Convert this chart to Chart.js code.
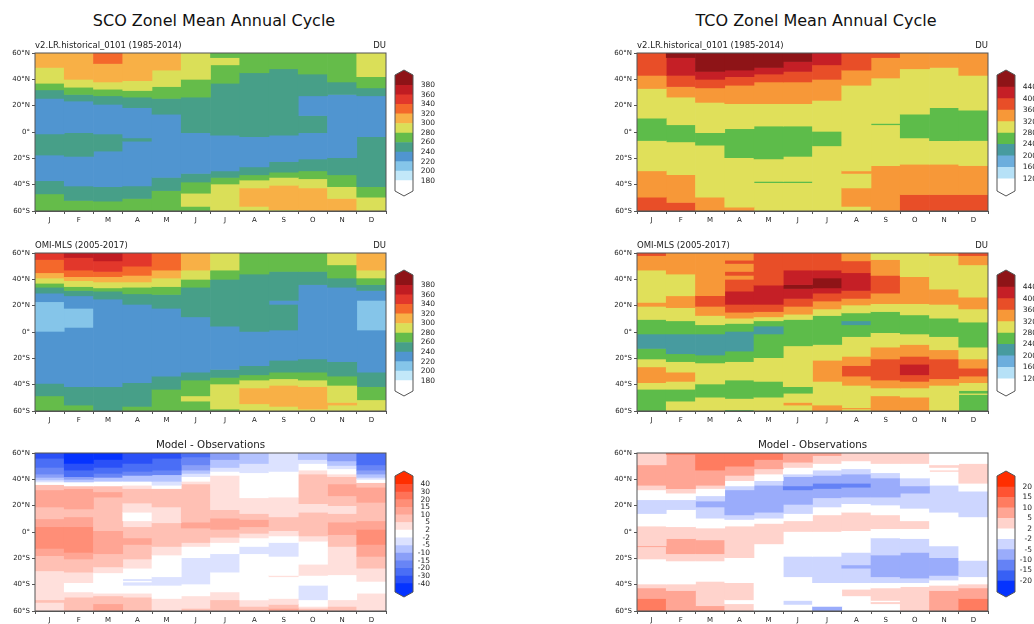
<!DOCTYPE html>
<html>
<head>
<meta charset="utf-8">
<title>Zonal Mean Annual Cycle</title>
<script src="https://cdn.jsdelivr.net/npm/chart.js@4"></script>
<style>
  html, body { margin: 0; padding: 0; background: #fff; }
  #page { position: relative; width: 1034px; height: 624px; overflow: hidden; }
  canvas { position: absolute; }
  .title { position: absolute; top: 11px; font: 16px "DejaVu Sans"; color: #111; transform: translateX(-50%); white-space: nowrap; }
</style>
</head>
<body>
<div id="page">
  <div class="title" style="left:214px">SCO Zonel Mean Annual Cycle</div>
  <div class="title" style="left:816px">TCO Zonel Mean Annual Cycle</div>
</div>
<script>
const monthLabels = ['J', 'F', 'M', 'A', 'M', 'J', 'J', 'A', 'S', 'O', 'N', 'D'];
const latTicks = [-60, -40, -20, 0, 20, 40, 60];

// colour levels
const scoLevels = [180, 200, 220, 240, 260, 280, 300, 320, 340, 360, 380];
const scoColors = ['#ffffff', '#c2e8f9', '#85c5e9', '#5095d0', '#479f88', '#65bc4a', '#dadf58', '#f8b046', '#f4682b', '#e2372b', '#c01c22', '#8e1317'];
const tcoLevels = [120, 160, 200, 240, 280, 320, 360, 400, 440];
const tcoColors = ['#ffffff', '#b6e1f7', '#6caedd', '#479b9f', '#5dbc4a', '#e0e05a', '#f79838', '#e84e28', '#c51f26', '#8e1417'];
const scoDiffLevels = [-40, -30, -20, -15, -10, -5, -2, 2, 5, 10, 15, 20, 30, 40];
const scoDiffColors = ['#0533ff', '#2a50f7', '#4a6ef6', '#6885f6', '#8a9ff8', '#b4c3ff', '#dce2ff', '#ffffff', '#ffe0dc', '#ffc0b4', '#ffa594', '#ff8e77', '#ff7257', '#ff5131', '#ff2e00'];
const tcoDiffLevels = [-20, -15, -10, -5, -2, 2, 5, 10, 15, 20];
const tcoDiffColors = ['#0533ff', '#3760f5', '#6482f6', '#9aacfb', '#cdd6ff', '#ffffff', '#ffd3cc', '#ffa594', '#ff7c60', '#ff5332', '#ff2e00'];

// each month: band edges from north to south (60N and 60S left out) and the value in each band
const scoModelEdges = [
  [49, 37, 32, 25.5, -1.5, -17.5, -37, -47],
  [40, 34, 28.5, 23.5, -0.5, -18.5, -41, -52],
  [52, 38, 32.5, 27.5, 21, -1.5, -14.5, -41.5, -52.5],
  [39, 31.5, 26.5, 18.5, -4.5, -7, -41, -50.5],
  [47, 34.5, 25.5, 13.5, -34.5, -44.5],
  [40, 26.5, -0.5, -31.5, -38, -46.5, -56.5],
  [56.5, 51, 37, -2.5, -29.5, -34.5, -39.5],
  [45, -3.5, -26.5, -32.5, -36.5, -42.5, -56.5],
  [48, -2.5, -22.5, -30.5, -34.5, -40.5, -59],
  [44, 27.5, 12.5, -0.5, -20.5, -29.5, -35.5, -42.5],
  [38, 28.5, -19.5, -32.5, -41.5, -50.5],
  [42, 33.5, 27.5, -3.5, -41.5, -49.5]
];
const scoModelValues = [
  [310, 290, 270, 250, 230, 250, 230, 250, 270],
  [310, 290, 270, 250, 230, 250, 230, 250, 270],
  [330, 310, 290, 270, 250, 230, 250, 230, 250, 270],
  [310, 290, 270, 250, 230, 250, 230, 250, 270],
  [310, 290, 270, 250, 230, 250, 270],
  [290, 270, 250, 230, 250, 270, 290, 270],
  [270, 290, 270, 250, 230, 250, 270, 290],
  [270, 250, 230, 250, 270, 290, 310, 290],
  [270, 250, 230, 250, 270, 290, 310, 290],
  [270, 250, 230, 250, 230, 250, 270, 290, 310],
  [270, 250, 230, 250, 270, 290, 310],
  [290, 270, 250, 230, 250, 270, 290]
];

const scoObsEdges = [
  [55, 45, 41, 37, 34, 29.5, 23, 0.5, -39, -48.5],
  [56.5, 47, 42, 39, 34.5, 31.5, 27.5, 18, 3.5, -41.5, -55.5],
  [54, 46, 42, 38, 33.5, 31, 25, -41.5],
  [50, 43, 38, 34, 29, 21, -38.5, -56.5],
  [47, 41, 34.5, 28.5, 18, -33.5, -43.5],
  [47, 40, 34, 11.5, -30.5, -36.5, -48.5, -52.5],
  [47, 40, 4.5, -28.5, -34.5, -39.5, -58.5],
  [44, 0.5, -25.5, -32.5, -36.5, -42.5, -54.5],
  [46, 24, 21, 1.5, -21.5, -30.5, -35.5, -40.5, -56.5],
  [46, 36, -20.5, -30.5, -36.5, -41.5, -58.5],
  [51, 41, 34, -22.5, -33.5, -40.5, -53.5, -55.5],
  [47, 41, 36, 31.5, 24, 1.5, -30.5, -41.5, -51.5]
];
const scoObsValues = [
  [350, 330, 310, 290, 270, 250, 230, 210, 230, 250, 270],
  [370, 350, 330, 310, 290, 270, 250, 230, 210, 230, 250, 270],
  [370, 350, 330, 310, 290, 270, 250, 230, 250],
  [350, 330, 310, 290, 270, 250, 230, 250, 270],
  [330, 310, 290, 270, 250, 230, 250, 270],
  [310, 290, 270, 250, 230, 250, 270, 290, 270],
  [290, 270, 250, 230, 250, 270, 290, 270],
  [270, 250, 230, 250, 270, 290, 310, 290],
  [270, 250, 230, 250, 230, 250, 270, 290, 310, 290],
  [270, 250, 230, 250, 270, 290, 310, 290],
  [290, 270, 250, 230, 250, 270, 290, 310, 290],
  [310, 290, 270, 250, 230, 210, 230, 250, 270, 290]
];

const scoDiffEdges = [
  [56, 49, 44, 41.5, 39.5, 38, 36, 32, 19, 10, 4, -12.5, -18, -29.5, -51.5, -53.5],
  [52, 47, 42, 40, 38, 35, 33, 17.5, 11.5, 4, -15.5, -20.5, -30.5, -38.5, -45.5, -49.5],
  [55, 49, 44.5, 41.5, 38.5, 35, 30.5, 26.5, 1, -16.5, -26.5, -31, -46.5, -48.5, -54.5],
  [52, 46, 43, 38.5, 35.5, 33, 22, 15, 8.5, 4, -4.5, -9.5, -20.5, -27.5, -35.5, -37, -38, -40.5, -46.5, -49.5],
  [56, 47, 43.5, 38.5, 35.5, 33, 19, 7, -11, -17.5, -34, -40.5, -50.5],
  [57, 51, 47, 44.5, 42, 38.5, 36.5, 7.5, 3, -8, -11, -19.5, -39.5, -48.5, -58],
  [55, 49, 46, 43, 17, 10.5, 2, -4, -8, -16.5, -30.5, -45.5, -51.5],
  [52, 45, 26, 14, 9.5, 4, -1, -4.5, -11, -16.5, -51.5, -56.5],
  [46, 26.5, 11.5, 1, -3, -8, -18.5, -33, -34, -50.5, -55, -58],
  [55, 52, 47, 44, 21.5, 15, -3, -7, -24.5, -33, -40.5, -51.5, -56.5, -58],
  [54, 50.5, 48, 44, 42, 36.5, 27.5, 20, 14, 7.5, -2, -11, -32.5, -51.5, -56.5],
  [51, 47, 44, 41.5, 40, 37.5, 34, 22.5, 8.5, 2, -9.5, -18.5, -27.5, -37.5, -46.5]
];
const scoDiffValues = [
  [-35, -25, -17, -12, -7, -3, 0, 7, 12, 7, 12, 17, 12, 7, 3, 7, 3],
  [-45, -35, -25, -12, -7, 0, 7, 12, 7, 12, 17, 12, 7, 3, 0, 3, 7],
  [-45, -35, -25, -17, -7, 0, 7, 12, 7, 12, 7, 3, 0, 3, 7, 12],
  [-35, -25, -17, -7, 0, 3, 7, 3, 0, 3, 7, 12, 7, 3, 0, -3, 0, -3, 0, 3, 7],
  [-35, -25, -17, -7, -3, 0, 7, 3, 7, 3, 0, -3, 0, 3],
  [-25, -17, -12, -7, -3, 0, 3, 7, 12, 7, 3, 0, -3, 0, 3, 7],
  [-12, -7, -3, 0, 3, 7, 12, 7, 3, 0, -3, 0, 3, 7],
  [-7, -3, 0, 3, 7, 12, 7, 3, 0, -3, 0, 3, 7],
  [-3, 0, 3, 7, 3, 0, -3, 0, 3, 0, 3, 7, 12],
  [-7, -3, 0, 3, 7, 3, 7, 3, 0, 3, 0, -3, 0, 3, 7],
  [-12, -7, -3, 0, 3, 7, 12, 7, 3, 7, 12, 7, 3, 0, 3, 7],
  [-25, -17, -12, -7, -3, 0, 7, 12, 7, 12, 17, 12, 7, 3, 0, 3]
];

const tcoModelEdges = [
  [43, 33, 10.5, -6.5, -29.5, -49.5],
  [56.5, 43, 34.5, 26.5, 5.5, -7.5, -32.5, -53.5],
  [46, 40, 33.5, 22.5, -0.5, -10, -49.5],
  [47, 42, 35.5, 21.5, 2.5, -19.5, -57],
  [49, 44, 38, 21.5, 4.5, -20.5, -37.5, -38.5],
  [53.5, 46, 38, 21.5, 4.5, -18.5, -37.5, -38.5],
  [51, 40, 24, 0.5, -10.5],
  [47, 35.5, -29.5, -31.5, -42.5, -56.5],
  [56.5, 41, 6.5, 5.5, -25.5],
  [48, 13.5, -4.5, -24.5, -47.5],
  [49, 18.5, -6.5, -24.5, -47.5],
  [43, 16.5, -6.5, -25.5, -47.5]
];
const tcoModelValues = [
  [380, 340, 300, 260, 300, 340, 380],
  [460, 420, 380, 340, 300, 260, 300, 340, 380],
  [460, 420, 380, 340, 300, 260, 300, 340],
  [460, 420, 380, 340, 300, 260, 300, 340],
  [460, 420, 380, 340, 300, 260, 300, 260, 300],
  [460, 420, 380, 340, 300, 260, 300, 260, 300],
  [420, 380, 340, 300, 260, 300],
  [380, 340, 300, 340, 300, 340, 300],
  [380, 340, 300, 260, 300, 340],
  [340, 300, 260, 300, 340, 380],
  [340, 300, 260, 300, 340, 380],
  [340, 300, 260, 300, 340, 380]
];

const tcoObsEdges = [
  [58, 47, 22.5, 19.5, 9.5, -1.5, -12.5, -20.5, -26.5, -38.5, -43.5],
  [44, 27.5, 18.5, 8.5, -1.5, -16.5, -22.5, -30.5, -37.5, -43.5, -52.5],
  [27.5, 19.5, 12.5, 5.5, -1.5, -17.5, -23.5, -39.5, -49.5],
  [54.5, 52, 46, 43, 40, 31, 21, 15, 10.5, 6.5, 0.5, -14.5, -22.5, -36.5, -50.5, -59],
  [35.5, 21, 15.5, 11.5, 8.5, 4.5, -1.5, -19.5, -37.5, -49.5],
  [47, 36, 33, 25.5, 19.5, 13.5, 9.5, -10.5, -41.5, -46.5, -53.5, -55.5],
  [47, 41, 33.5, 29.5, 23.5, 17.5, 12.5, -9.5, -21.5, -37.5, -55.5],
  [54, 45, 31.5, 25.5, 20.5, 14.5, 8.5, 5.5, -3.5, -18.5, -25.5, -33.5, -40.5, -57.5, -58.5],
  [55, 43, 29.5, 21.5, 15.5, -0.5, -11.5, -20.5, -36.5, -42.5, -48.5],
  [42, 21.5, 13, -1.5, -9.5, -18.5, -24.5, -32.5, -37.5, -42.5, -49.5],
  [58, 32.5, 21, 10.5, -3.5, -13.5, -20.5, -35.5, -40.5],
  [58, 51, 26.5, 17.5, 7.5, -11.5, -20.5, -27.5, -33.5, -38.5, -44.5, -46.5, -47.5]
];
const tcoObsValues = [
  [380, 340, 300, 340, 300, 260, 220, 260, 300, 340, 300, 260],
  [340, 300, 340, 300, 260, 220, 260, 300, 340, 300, 260, 300],
  [340, 380, 340, 300, 260, 220, 260, 300, 260, 300],
  [340, 380, 340, 380, 340, 380, 420, 380, 340, 300, 260, 220, 260, 300, 260, 300, 260],
  [380, 420, 380, 340, 300, 260, 220, 260, 300, 260, 300],
  [380, 420, 460, 420, 380, 340, 300, 260, 300, 260, 300, 340, 300],
  [380, 420, 460, 420, 380, 340, 300, 260, 300, 340, 300, 340],
  [340, 380, 420, 380, 340, 300, 260, 220, 260, 300, 340, 380, 340, 300, 340, 300],
  [300, 340, 380, 340, 300, 260, 300, 340, 380, 340, 300, 340],
  [300, 340, 300, 260, 300, 340, 380, 420, 380, 340, 300, 340],
  [340, 300, 340, 300, 260, 300, 340, 380, 340, 300],
  [380, 340, 300, 340, 300, 260, 300, 340, 380, 340, 300, 260, 300, 260]
];

const tcoDiffEdges = [
  [51, 35.5, 32, 24.5, 14, 4.5, -10.5, -11.2, -20.5, -39.5, -42.5, -50.5],
  [59, 33, 29.5, 24.5, 17, 4, -5, -16.5, -22, -39.5, -44.5],
  [47, 35.5, 33, 27.5, 23.5, 19, 10.5, 3, -6, -16.5, -22, -37.5, -56],
  [50, 43, 39, 35, 32, 13, 9.5, 4.5, -19.5, -38.5, -51.5, -54.5],
  [55, 48, 44, 39, 35.5, 15, 10.5, 6.5, -9],
  [53, 49, 44, 42, 35, 32, 21, 14, 8.5, 0, -18.5, -34, -52, -55],
  [58, 52, 47, 43, 37, 33, 26, 19, 13, 0, -18.5, -38.5, -56.5],
  [54, 48, 44, 37, 34, 26.5, 21.5, 15, 1, -15.5, -25, -27.5, -38.5, -43.5, -48.5],
  [52, 45, 41, 26.5, 20.5, 13, 2.5, -4.5, -17.5, -34, -38.5, -42.5, -52, -53, -54.5],
  [52, 41, 35, 29.5, 18, 8.5, 2.5, -5, -15.5, -35, -38.5, -41.5],
  [51, 49, 47, 46, 35.5, 15, -10.5, -19.5, -33, -36.5, -40.5, -44.5],
  [52, 37, 31, 11.5, -21.5, -34, -39.5, -42.5, -50.5]
];
const tcoDiffValues = [
  [3, 7, 3, 0, -3, 0, 3, 7, 3, 0, 3, 7, 12],
  [12, 7, 3, 0, -3, 0, 3, 7, 3, 0, 3, 7],
  [12, 7, 3, 0, -3, -7, -3, 0, 3, 7, 3, 0, 3, 7],
  [12, 7, 3, 0, -3, -7, -3, 0, 3, 0, 3, 0, 3],
  [12, 7, 3, 0, -3, -7, -3, 0, 3, 0],
  [7, 3, 0, -3, -7, -12, -7, -3, 0, 3, 0, -3, 0, -3, 0],
  [7, 3, 0, -3, -7, -12, -7, -3, 0, 3, 0, -3, 0, -7],
  [3, 0, -3, -7, -12, -7, -3, 0, 3, 0, -3, -7, -3, 0, 3, 0],
  [3, 0, -3, -7, -3, 0, 3, 0, -3, -7, -3, 0, 3, 0, 3, 0],
  [3, 0, -3, -7, -3, 0, 3, 0, -3, -7, -3, 0, 3],
  [0, 3, 0, 3, 0, -3, 0, -3, -7, -3, 0, 3, 7],
  [0, 3, 0, -3, 0, -3, 0, 3, 7, 12]
];

Chart.defaults.font.family = '"DejaVu Sans"';
Chart.defaults.color = '#222';
Chart.defaults.animation = false;

const page = document.getElementById('page');

function addCanvas(left, top, width, height) {
  const c = document.createElement('canvas');
  c.width = width;
  c.height = height;
  c.style.left = left + 'px';
  c.style.top = top + 'px';
  c.style.width = width + 'px';
  c.style.height = height + 'px';
  page.appendChild(c);
  return c;
}

function colorOf(v, levels, colors) {
  let i = 0;
  while (i < levels.length && v >= levels[i]) i++;
  return colors[i];
}

function latLabel(v) {
  if (v === 0) return '0°';
  return v > 0 ? v + '°N' : (-v) + '°S';
}

// frame and the small texts above a panel
const panelFrame = {
  id: 'panelFrame',
  afterDatasetsDraw(chart, args, opts) {
    const { ctx, chartArea: a } = chart;
    ctx.save();
    ctx.strokeStyle = '#555';
    ctx.lineWidth = 1;
    ctx.strokeRect(a.left, a.top, a.right - a.left, a.bottom - a.top);
    ctx.fillStyle = '#222';
    ctx.textBaseline = 'alphabetic';
    if (opts.left) {
      ctx.font = '8.5px "DejaVu Sans"';
      ctx.textAlign = 'left';
      ctx.fillText(opts.left, a.left, a.top - 5);
      ctx.textAlign = 'right';
      ctx.fillText(opts.right, a.right, a.top - 5);
    }
    if (opts.center) {
      ctx.font = '10.3px "DejaVu Sans"';
      ctx.textAlign = 'center';
      ctx.fillText(opts.center, (a.left + a.right) / 2, a.top - 5);
    }
    ctx.restore();
  }
};

// pointed ends of the colour bars
function hexPath(chart) {
  const { ctx, chartArea: a } = chart;
  const mid = (a.left + a.right) / 2;
  ctx.beginPath();
  ctx.moveTo(mid, a.top);
  ctx.lineTo(a.right, a.top + 5);
  ctx.lineTo(a.right, a.bottom - 5);
  ctx.lineTo(mid, a.bottom);
  ctx.lineTo(a.left, a.bottom - 5);
  ctx.lineTo(a.left, a.top + 5);
  ctx.closePath();
}
const hexBar = {
  id: 'hexBar',
  beforeDatasetsDraw(chart) {
    chart.ctx.save();
    hexPath(chart);
    chart.ctx.clip();
  },
  afterDatasetsDraw(chart) {
    const ctx = chart.ctx;
    ctx.restore();
    ctx.save();
    hexPath(chart);
    ctx.strokeStyle = '#555';
    ctx.lineWidth = 1;
    ctx.stroke();
    ctx.restore();
  }
};

function drawPanel(left, top, p) {
  const plotW = 351, plotH = 158, axisW = 35, headH = 20, footH = 18;
  const canvas = addCanvas(left - axisW, top - headH, axisW + plotW + 6, headH + plotH + footH);
  const segs = Math.max(...p.values.map(v => v.length));
  const datasets = [];
  for (let k = 0; k < segs; k++) {
    datasets.push({
      grouped: false,
      barPercentage: 1,
      categoryPercentage: 1,
      borderWidth: 0,
      data: p.values.map((vals, m) => {
        if (k >= vals.length) return null;
        const edges = [60, ...p.edges[m], -60];
        return [edges[k + 1], edges[k]];
      }),
      backgroundColor: p.values.map(vals => k < vals.length ? colorOf(vals[k], p.levels, p.colors) : 'rgba(0,0,0,0)')
    });
  }
  new Chart(canvas, {
    type: 'bar',
    data: { labels: monthLabels, datasets },
    plugins: [panelFrame],
    options: {
      responsive: false,
      layout: { padding: { top: headH, right: 6, left: 0, bottom: 0 } },
      plugins: {
        legend: { display: false },
        tooltip: { enabled: false },
        panelFrame: { left: p.left, right: p.right, center: p.center }
      },
      scales: {
        x: {
          afterFit: s => { s.height = footH; },
          grid: { drawOnChartArea: false, tickLength: 3, color: '#555' },
          border: { color: '#555' },
          ticks: { font: { size: 7 }, padding: 2, maxRotation: 0, autoSkip: false }
        },
        y: {
          min: -60,
          max: 60,
          afterFit: s => { s.width = axisW; },
          afterBuildTicks: s => { s.ticks = latTicks.map(v => ({ value: v })); },
          grid: { drawOnChartArea: false, tickLength: 3, color: '#555' },
          border: { color: '#555' },
          ticks: { font: { size: 7 }, padding: 2, autoSkip: false, callback: v => latLabel(v) }
        }
      }
    }
  });
}

function drawColorbar(left, top, bar) {
  const barW = 18, barH = 126;
  const canvas = addCanvas(left, top - 1, bar.width, barH + 2);
  const n = bar.levels.length;
  const cap = (barH / bar.spacing - (n - 1)) / 2;
  const datasets = bar.colors.map((color, i) => ({
    grouped: false,
    barPercentage: 1,
    categoryPercentage: 1,
    borderWidth: 0,
    backgroundColor: color,
    data: [[i === 0 ? -cap : i - 1, i === n ? n - 1 + cap : i]]
  }));
  new Chart(canvas, {
    type: 'bar',
    data: { labels: [''], datasets },
    plugins: [hexBar],
    options: {
      responsive: false,
      layout: { autoPadding: false, padding: { left: 1, top: 1, bottom: 1, right: 0 } },
      plugins: { legend: { display: false }, tooltip: { enabled: false } },
      scales: {
        x: { display: false },
        y: {
          position: 'right',
          min: -cap,
          max: n - 1 + cap,
          afterFit: s => {
            s.width = bar.width - barW - 1;
            // labels sit well inside the bar's height, no room needed for them
            s.paddingTop = 0;
            s.paddingBottom = 0;
          },
          afterBuildTicks: s => { s.ticks = bar.levels.map((_, i) => ({ value: i })); },
          grid: { display: false, drawTicks: false },
          border: { display: false },
          ticks: {
            font: { size: 7.5 },
            padding: 2,
            crossAlign: 'far',
            autoSkip: false,
            callback: v => bar.levels[v]
          }
        }
      }
    }
  });
}

const leftX = 35, rightX = 637;
const rowTops = [53, 253, 453];
const barTops = [70, 270, 471];
const modelName = 'v2.LR.historical_0101 (1985-2014)';
const obsName = 'OMI-MLS (2005-2017)';

// width runs from the bar to the right end of the labels; the TCO labels run off the page
const scoBar = { levels: scoLevels, colors: scoColors, spacing: 9.53, width: 41 };
const tcoBar = { levels: tcoLevels, colors: tcoColors, spacing: 11.45, width: 41 };
const scoDiffBar = { levels: scoDiffLevels, colors: scoDiffColors, spacing: 7.64, width: 36 };
const tcoDiffBar = { levels: tcoDiffLevels, colors: tcoDiffColors, spacing: 10.44, width: 36 };

drawPanel(leftX, rowTops[0], { edges: scoModelEdges, values: scoModelValues, levels: scoLevels, colors: scoColors, left: modelName, right: 'DU' });
drawPanel(leftX, rowTops[1], { edges: scoObsEdges, values: scoObsValues, levels: scoLevels, colors: scoColors, left: obsName, right: 'DU' });
drawPanel(leftX, rowTops[2], { edges: scoDiffEdges, values: scoDiffValues, levels: scoDiffLevels, colors: scoDiffColors, center: 'Model - Observations' });
drawPanel(rightX, rowTops[0], { edges: tcoModelEdges, values: tcoModelValues, levels: tcoLevels, colors: tcoColors, left: modelName, right: 'DU' });
drawPanel(rightX, rowTops[1], { edges: tcoObsEdges, values: tcoObsValues, levels: tcoLevels, colors: tcoColors, left: obsName, right: 'DU' });
drawPanel(rightX, rowTops[2], { edges: tcoDiffEdges, values: tcoDiffValues, levels: tcoDiffLevels, colors: tcoDiffColors, center: 'Model - Observations' });

drawColorbar(394, barTops[0], scoBar);
drawColorbar(394, barTops[1], scoBar);
drawColorbar(394, barTops[2], scoDiffBar);
drawColorbar(996, barTops[0], tcoBar);
drawColorbar(996, barTops[1], tcoBar);
drawColorbar(996, barTops[2], tcoDiffBar);
</script>
</body>
</html>
